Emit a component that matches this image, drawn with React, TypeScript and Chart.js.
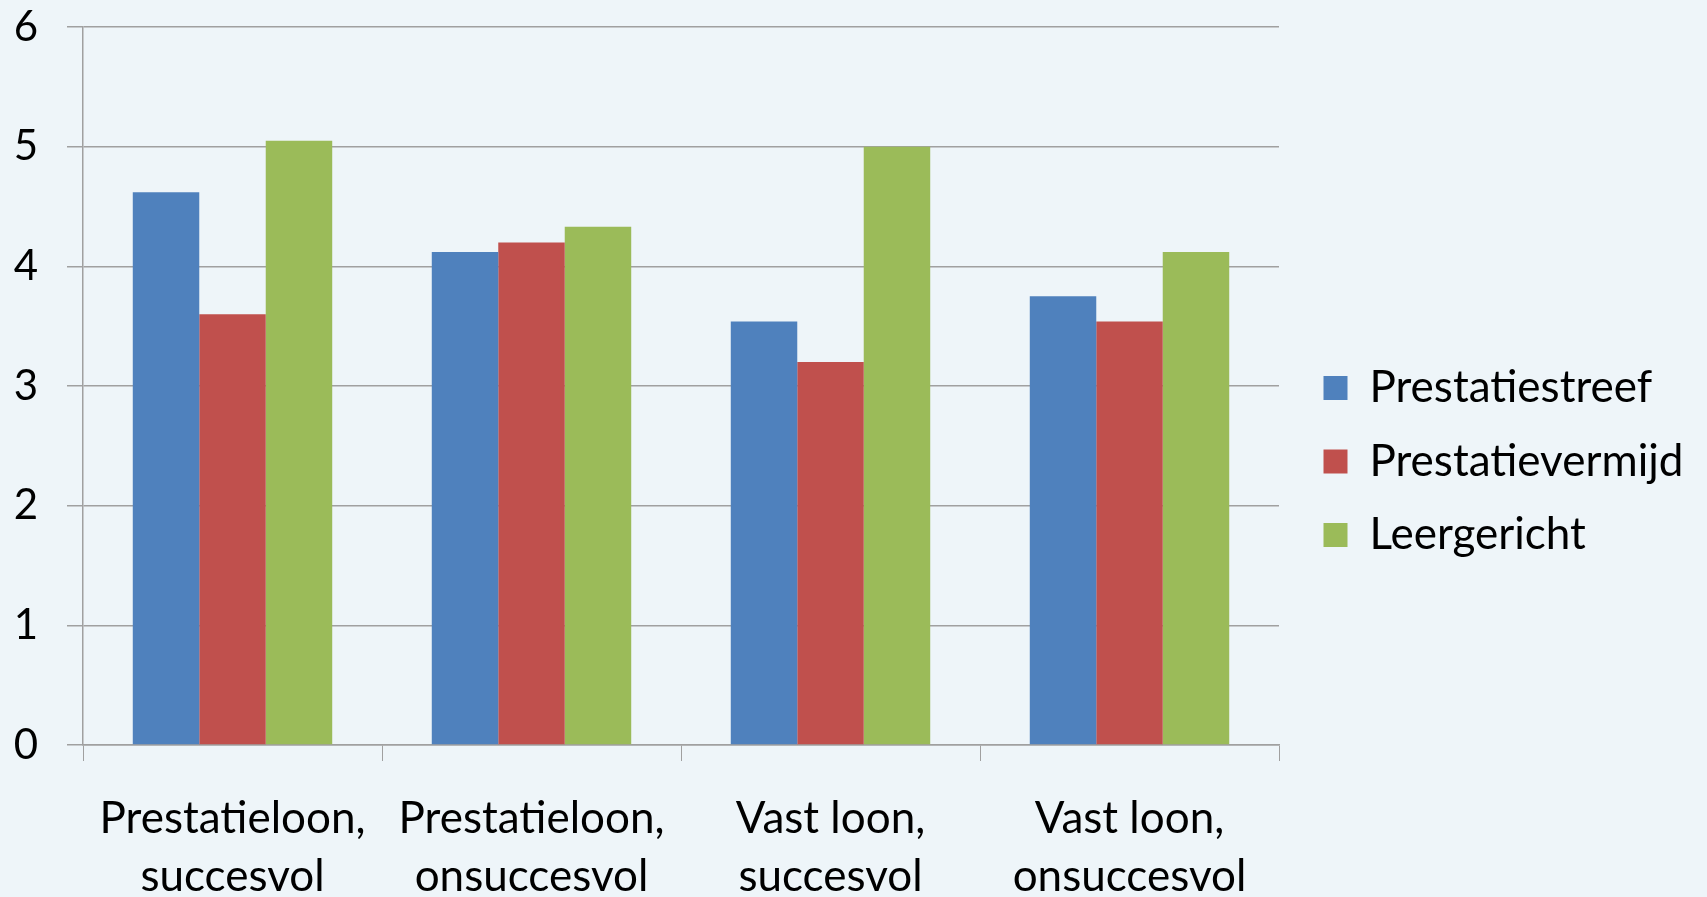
import React, { useEffect, useRef } from "react";
import { Chart, registerables } from "chart.js";

Chart.register(...registerables);

const categories: string[][] = [
  ["Prestatieloon,", "succesvol"],
  ["Prestatieloon,", "onsuccesvol"],
  ["Vast loon,", "succesvol"],
  ["Vast loon,", "onsuccesvol"],
];
const seriesNames = ["Prestatiestreef", "Prestatievermijd", "Leergericht"];
const prestatiestreef = [4.62, 4.12, 3.54, 3.75];
const prestatievermijd = [3.6, 4.2, 3.2, 3.54];
const leergericht = [5.05, 4.33, 5.0, 4.12];
const yMin = 0;
const yMax = 6;
const yStep = 1;

const W = 1707;
const H = 897;
const AREA_LEFT = 83;
const AREA_RIGHT = 1279;
const AREA_TOP = 27;
const AREA_BOTTOM = 745;
const FONT = "Lato, 'Open Sans', sans-serif";
const GRID = "#a0a0a0";
const LABEL_SIZE = 44;

export default function App() {
  const ref = useRef<HTMLCanvasElement | null>(null);
  useEffect(() => {
    document.body.style.margin = "0";
    const canvas = ref.current;
    if (!canvas) return;
    const legendPlugin = {
      id: "legendLayoutFix",
      beforeLayout(chart: any) {
        const l = chart.legend;
        if (l && !l.__patched) {
          const orig = l.fit.bind(l);
          l.fit = function () {
            orig();
            this.width = W - AREA_RIGHT;
          };
          l.__patched = true;
        }
      },
      afterLayout(chart: any) {
        const l = chart.legend;
        if (l) {
          l.left = 1294;
          l.right = W;
          l.top = 18;
          l.bottom = H + 8;
        }
      },
    };
    const chart = new Chart(canvas, {
      type: "bar",
      data: {
        labels: categories,
        datasets: [
          { label: seriesNames[0], data: prestatiestreef, backgroundColor: "#4F81BD", borderColor: "#4F81BD", borderWidth: 0 },
          { label: seriesNames[1], data: prestatievermijd, backgroundColor: "#C0504D", borderColor: "#C0504D", borderWidth: 0 },
          { label: seriesNames[2], data: leergericht, backgroundColor: "#9BBB59", borderColor: "#9BBB59", borderWidth: 0 },
        ],
      },
      options: {
        animation: false,
        responsive: false,
        maintainAspectRatio: false,
        layout: { padding: { top: AREA_TOP, left: 0, right: 0, bottom: 0 } },
        datasets: { bar: { barPercentage: 1, categoryPercentage: 0.667 } },
        plugins: {
          tooltip: { enabled: false },
          legend: {
            position: "right",
            align: "center",
            labels: {
              boxWidth: 24,
              boxHeight: 24,
              padding: 29.5,
              color: "#000",
              font: { family: FONT, size: LABEL_SIZE },
            },
          },
        },
        scales: {
          x: {
            grid: { drawOnChartArea: false, tickLength: 16, color: GRID, offset: true },
            border: { color: GRID, width: 1.5 },
            ticks: {
              color: "#000",
              font: { family: FONT, size: LABEL_SIZE, lineHeight: 58 / LABEL_SIZE },
              padding: 29,
              maxRotation: 0,
              autoSkip: false,
            },
            afterFit(scale: any) {
              scale.height = H - AREA_BOTTOM;
              scale.paddingLeft = 0;
              scale.paddingRight = 0;
            },
          },
          y: {
            min: yMin,
            max: yMax,
            grid: { color: GRID, tickLength: 16, lineWidth: 1.5 },
            border: { color: GRID, width: 1.5 },
            ticks: {
              stepSize: yStep,
              color: "#000",
              font: { family: FONT, size: 42 },
              padding: 29,
            },
            afterFit(scale: any) {
              scale.width = AREA_LEFT;
              scale.paddingTop = 0;
              scale.paddingBottom = 0;
            },
          },
        },
      },
      plugins: [legendPlugin],
    });
    return () => chart.destroy();
  }, []);
  return (
    <div style={{ position: "fixed", left: 0, top: 0, width: W, height: H, background: "#EEF5F9" }}>
      <canvas ref={ref} width={W} height={H} style={{ display: "block", width: W, height: H }} />
    </div>
  );
}
